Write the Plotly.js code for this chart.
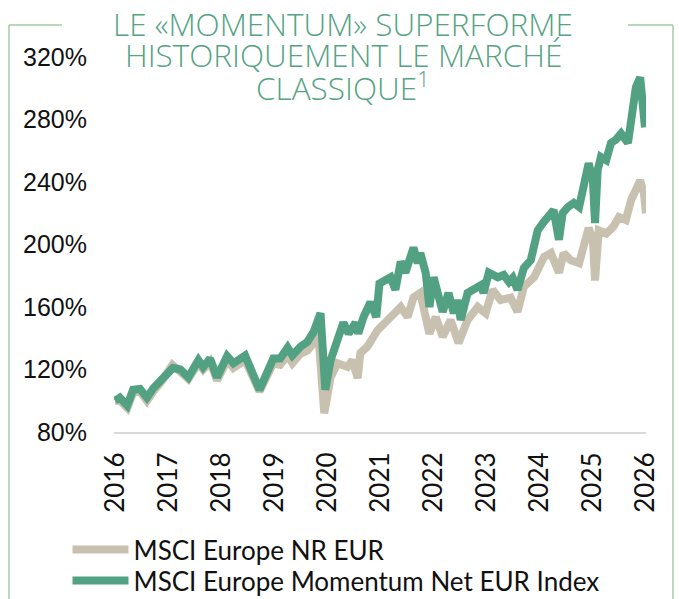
<!DOCTYPE html>
<html><head><meta charset="utf-8">
<script src="https://cdn.plot.ly/plotly-3.0.1.min.js"></script>
<style>html,body{margin:0;padding:0;background:#fff;}</style>
</head><body><div id="chart" style="width:679px;height:599px;"></div>
<script>
// MSCI Europe NR EUR (base 100), x = decimal year
const msciDates = [2016.00,2016.09,2016.23,2016.34,2016.47,2016.60,2016.72,2016.89,2017.08,2017.23,2017.38,2017.57,2017.66,2017.79,2017.92,2018.11,2018.23,2018.45,2018.58,2018.72,2018.98,2019.11,2019.25,2019.34,2019.49,2019.62,2019.74,2019.83,2019.94,2020.06,2020.19,2020.38,2020.47,2020.57,2020.62,2020.75,2020.94,2021.00,2021.19,2021.38,2021.51,2021.62,2021.75,2021.85,2021.92,2022.04,2022.17,2022.32,2022.47,2022.64,2022.83,2022.98,2023.11,2023.26,2023.45,2023.58,2023.70,2023.89,2024.08,2024.21,2024.36,2024.45,2024.58,2024.74,2024.83,2024.92,2025.00,2025.04,2025.11,2025.25,2025.38,2025.49,2025.62,2025.72,2025.81,2025.89,2025.96,2026.00];
const msciValues = [100,100,95.4,105,106,100,106,113,123,119,114,124,120,125,113,126,121,126,115,106,124,123,129,124,130,132,137,142,92,115,124,121.6,126,114.5,130.6,134.5,145,147,153.6,160,153.6,166,169,156,143,153.6,141,151.7,137,151.7,160,156,171,164.5,166,157,173,179,192,194.5,182,194.5,190,188,198,210.6,203,177,209,207,211,217.6,215.7,228.5,235,241,233,220];

// MSCI Europe Momentum Net EUR Index (base 100)
const momDates = [2016.00,2016.09,2016.23,2016.34,2016.47,2016.60,2016.72,2016.89,2017.09,2017.23,2017.38,2017.57,2017.66,2017.79,2017.92,2018.11,2018.23,2018.45,2018.58,2018.72,2018.98,2019.11,2019.25,2019.34,2019.49,2019.62,2019.74,2019.87,2019.96,2020.06,2020.19,2020.30,2020.40,2020.53,2020.58,2020.68,2020.81,2020.92,2020.98,2021.06,2021.19,2021.28,2021.38,2021.47,2021.62,2021.70,2021.75,2021.85,2021.92,2022.00,2022.09,2022.17,2022.28,2022.38,2022.45,2022.51,2022.64,2022.75,2022.89,2022.94,2023.04,2023.21,2023.32,2023.42,2023.49,2023.58,2023.70,2023.83,2023.96,2024.06,2024.17,2024.26,2024.36,2024.43,2024.53,2024.64,2024.74,2024.83,2024.92,2025.00,2025.04,2025.09,2025.15,2025.25,2025.34,2025.43,2025.53,2025.66,2025.72,2025.81,2025.89,2025.94,2025.98];
const momValues = [100,102,97,107,107.5,102,108,114.5,121,120,115,126,121.6,127,115,128.6,124,129,118,107,127,127,134,129,134.5,137.6,144,156,107,126,139,150,143,150,143,153.6,163,153.6,175,177,179,171,189,182,198,188,194.5,182,160,179,169,157,169,156,164.5,151.7,169,171,174,169,182,179,180.5,176,178.6,171,185,190,209,213.8,217.6,222,203,220,224,226.6,224,237,252,241,213.8,247.7,256,254,265,267,271,265,277.8,300.8,307,292.5,275];

const seriesNames = ['MSCI Europe NR EUR', 'MSCI Europe Momentum Net EUR Index'];
const titleLines = ['LE «MOMENTUM» SUPERFORME', 'HISTORIQUEMENT LE MARCHÉ', 'CLASSIQUE<sup>1</sup>'];
const xTickVals = [2016,2017,2018,2019,2020,2021,2022,2023,2024,2025,2026];
const xTickText = ['2016','2017','2018','2019','2020','2021','2022','2023','2024','2025','2026'];
const yTickVals = [80,120,160,200,240,280,320];
const yTickText = ['80%','120%','160%','200%','240%','280%','320%'];

const BEIGE = '#c9c1b0';
const GREEN = '#53a183';
const TITLE_GREEN = '#55a383';
const FRAME = '#b9d8bb';

const traces = [
  {x: msciDates, y: msciValues, name: seriesNames[0], type: 'scatter', mode: 'lines',
   line: {color: BEIGE, width: 8, shape: 'linear'}, legend: 'legend'},
  {x: momDates, y: momValues, name: seriesNames[1], type: 'scatter', mode: 'lines',
   line: {color: GREEN, width: 8, shape: 'linear'}, legend: 'legend2'}
];

const W = 679, H = 599;
function px2x(p){ return (p - 114) / 532; }
function py2y(p){ return (432 - p) / 375; }
const frameLine = {color: FRAME, width: 2};
const shapes = [
  {type:'line', xref:'paper', yref:'paper', x0:px2x(9), x1:px2x(9), y0:py2y(25), y1:py2y(600), line: frameLine},
  {type:'line', xref:'paper', yref:'paper', x0:px2x(9), x1:px2x(62), y0:py2y(25), y1:py2y(25), line: frameLine},
  {type:'line', xref:'paper', yref:'paper', x0:px2x(628), x1:px2x(673), y0:py2y(25), y1:py2y(25), line: frameLine},
  {type:'line', xref:'paper', yref:'paper', x0:px2x(673), x1:px2x(673), y0:py2y(25), y1:py2y(600), line: frameLine}
];

const titleCenters = [24, 54, 86];
const titleFont = {family: 'Open Sans', size: 31.5, color: TITLE_GREEN, weight: 300};
const annotations = titleLines.map((t, i) => ({
  text: t, xref: 'paper', yref: 'paper', x: px2x(343), y: py2y(titleCenters[i]),
  xanchor: 'center', yanchor: 'middle', showarrow: false, font: titleFont
}));

const legendCommon = {
  orientation: 'v', xref: 'container', yref: 'container',
  xanchor: 'left', yanchor: 'top',
  font: {family: 'Lato', size: 26, color: '#111111'},
  itemwidth: 56, bgcolor: 'rgba(0,0,0,0)'
};

const layout = {
  width: W, height: H,
  margin: {l: 114, r: 33, t: 57, b: 167, autoexpand: false},
  paper_bgcolor: '#ffffff', plot_bgcolor: '#ffffff',
  xaxis: {
    range: [2015.98, 2026.0], tickmode: 'array', tickvals: xTickVals, ticktext: xTickText,
    tickangle: -90, showgrid: false, zeroline: false,
    showline: true, linecolor: '#d9d9d9', linewidth: 2,
    ticks: '', ticklabelstandoff: 8, automargin: false,
    tickfont: {family: 'Lato', size: 26, color: '#111111'}
  },
  yaxis: {
    range: [80, 320], tickmode: 'array', tickvals: yTickVals, ticktext: yTickText,
    showgrid: false, zeroline: false, showline: false, ticks: '',
    ticklabelstandoff: 26, automargin: false,
    tickfont: {family: 'Liberation Sans', size: 25, color: '#111111'}
  },
  showlegend: true,
  legend: Object.assign({}, legendCommon, {x: 67.5 / W, y: (H - 526) / H}),
  legend2: Object.assign({}, legendCommon, {x: 67.5 / W, y: (H - 557) / H}),
  shapes: shapes,
  annotations: annotations
};

Plotly.newPlot('chart', traces, layout, {displayModeBar: false, responsive: false});
</script></body></html>
